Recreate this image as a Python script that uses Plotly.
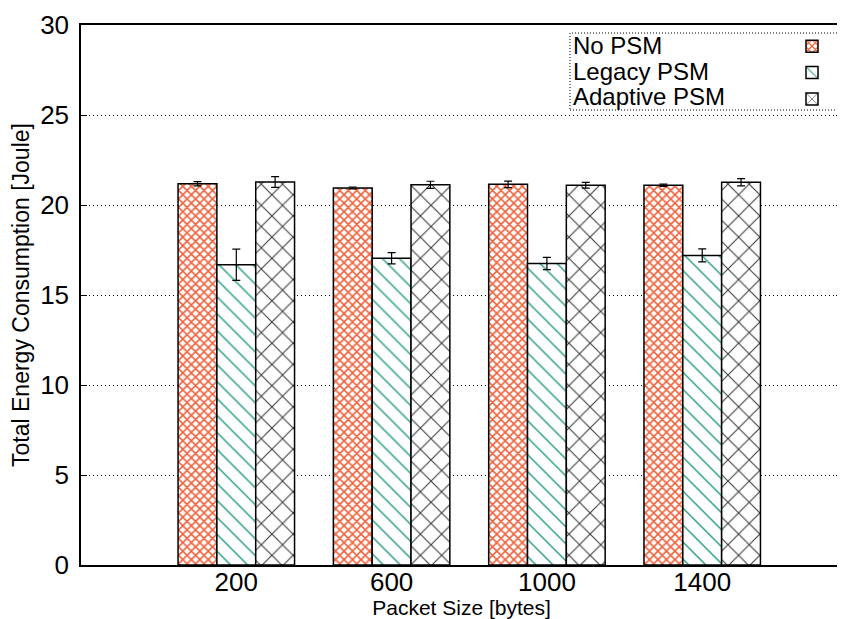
import plotly.graph_objects as go

categories = ["200", "600", "1000", "1400"]
series_names = ["No PSM", "Legacy PSM", "Adaptive PSM"]
no_psm = [21.18, 20.95, 21.15, 21.1]
no_psm_err = [0.12, 0.05, 0.18, 0.06]
legacy_psm = [16.68, 17.04, 16.75, 17.2]
legacy_psm_err = [0.87, 0.31, 0.34, 0.36]
adaptive_psm = [21.28, 21.12, 21.1, 21.26]
adaptive_psm_err = [0.3, 0.2, 0.16, 0.2]
y_ticks = [0, 5, 10, 15, 20, 25, 30]

styles = [
    dict(shape="x", size=6, fgcolor="#f0603a", solidity=0.45),
    dict(shape="\\", size=12, fgcolor="#2a9d85", solidity=0.12),
    dict(shape="x", size=15, fgcolor="#3c3c3c", solidity=0.14),
]

fig = go.Figure()
for name, vals, errs, st in zip(series_names,
                                [no_psm, legacy_psm, adaptive_psm],
                                [no_psm_err, legacy_psm_err, adaptive_psm_err],
                                styles):
    fig.add_trace(go.Bar(
        x=categories, y=vals, name="", text=[name] * len(vals), textposition="none",
        hovertemplate="%{text}: %{y}<extra></extra>",
        marker=dict(color="white", line=dict(color="black", width=1.5),
                    pattern=dict(shape=st["shape"], size=st["size"],
                                 fgcolor=st["fgcolor"], bgcolor="white", fgopacity=1,
                                 solidity=st["solidity"], fillmode="overlay")),
        error_y=dict(type="data", array=errs, color="black", thickness=1.2, width=4),
    ))

font_family = "Liberation Sans, Arial, Helvetica, sans-serif"
# the page body has an 8px margin: figure coordinates = page coordinates - 8
OFF = 8
W, H = 837, 611
L, T = 81 - OFF, 25 - OFF
R = W - (842 - OFF)
B = H - (565 - OFF)
pw, ph = W - L - R, H - T - B

def px_x(x):
    return (x - OFF - L) / pw

def px_y(y):
    return 1 - (y - OFF - T) / ph

fig.update_layout(
    width=W, height=H,
    margin=dict(l=L, r=R, t=T, b=B),
    paper_bgcolor="white", plot_bgcolor="white",
    barmode="group", bargap=0.25, bargroupgap=0,
    font=dict(family=font_family, color="black"),
    showlegend=True,
    legend=dict(x=px_x(792), y=px_y(28), xanchor="left", yanchor="top",
                bgcolor="rgba(0,0,0,0)", font=dict(size=18), tracegroupgap=0,
                itemwidth=30),
)
# legend frame and labels (labels left, swatches right as in the original)
fig.add_shape(type="rect", xref="paper", yref="paper",
              x0=px_x(570), x1=1.0, y0=px_y(110), y1=px_y(33),
              line=dict(color="black", width=1, dash="1px,2px"),
              fillcolor="white", layer="above")
for i, name in enumerate(series_names):
    fig.add_annotation(xref="paper", yref="paper", x=px_x(571), y=px_y(46 + 25.5 * i),
                       xanchor="left", yanchor="middle", text=name, showarrow=False,
                       font=dict(size=24, color="black"))
fig.update_xaxes(
    type="category", categoryorder="array", categoryarray=categories,
    range=[-1, 3.9], showgrid=False, showline=True, linecolor="black",
    linewidth=1.5, mirror=True, ticks="", ticklen=0, ticklabelstandoff=-7,
    tickfont=dict(size=26), automargin=False,
    title=dict(text="Packet Size [bytes]", font=dict(size=21), standoff=4),
)
fig.update_yaxes(
    range=[0, 30], tickvals=y_ticks, showgrid=True, gridcolor="black",
    griddash="1px,3px", gridwidth=1, showline=True, linecolor="black",
    linewidth=1.5, mirror="ticks", ticks="inside", ticklen=6, tickcolor="black",
    ticklabelstandoff=5,
    tickfont=dict(size=26), zeroline=False, automargin=False,
    title=dict(text="Total Energy Consumption [Joule]", font=dict(size=23), standoff=6),
)
fig.write_html("out.html")
